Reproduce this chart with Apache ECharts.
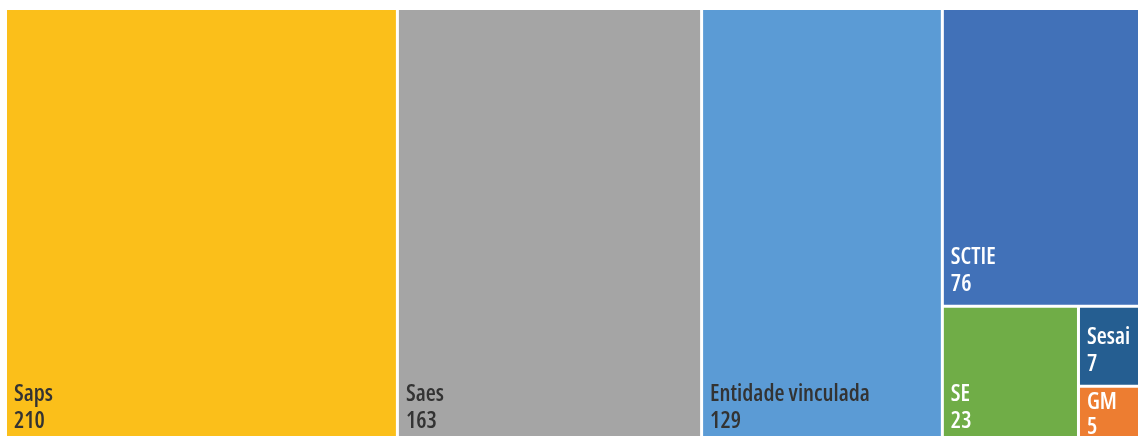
<!DOCTYPE html>
<html>
<head>
<meta charset="utf-8">
<script src="https://cdn.jsdelivr.net/npm/echarts@6/dist/echarts.min.js"></script>
<style>
html,body{margin:0;padding:0;background:#fff;}
#c{width:1138px;height:436px;}
</style>
</head>
<body>
<div id="c"></div>
<script>
const categories = ['Saps', 'Saes', 'Entidade vinculada', 'SCTIE', 'SE', 'Sesai', 'GM'];
const values = [210, 163, 129, 76, 23, 7, 5];
const colors = ['#FBBF1A', '#A5A5A5', '#5B9BD5', '#4171B8', '#70AD47', '#255E91', '#ED7D31'];
const labelColors = ['#333333', '#333333', '#333333', '#ffffff', '#ffffff', '#ffffff', '#ffffff'];

const data = categories.map((name, i) => {
  const d = {
    name: name,
    value: values[i],
    itemStyle: { color: colors[i] },
    label: { color: labelColors[i] }
  };
  if (name === 'GM') {
    d.label.position = 'insideTopLeft';
    d.label.distance = 0;
    d.label.padding = [2, 0, 0, 7];
    d.label.lineHeight = 25;
  }
  return d;
});

const chart = echarts.init(document.getElementById('c'));
chart.setOption({
  animation: false,
  series: [{
    type: 'treemap',
    left: 7,
    top: 10,
    width: 1141,
    height: 432,
    squareRatio: 1,
    roam: false,
    nodeClick: false,
    breadcrumb: { show: false },
    sort: 'desc',
    itemStyle: { borderWidth: 0, gapWidth: 3, borderColor: '#fff' },
    levels: [{ itemStyle: { borderWidth: 0, gapWidth: 3, borderColor: '#fff' } }],
    label: {
      show: true,
      position: 'insideBottomLeft',
      distance: 2,
      formatter: '{b}\n{c}',
      fontFamily: '"Open Sans", sans-serif',
      fontSize: 23,
      lineHeight: 27,
      fontWeight: 'condensed 600',
      overflow: 'none',
      lineOverflow: 'none'
    },
    upperLabel: { show: false },
    data: data
  }]
});
</script>
</body>
</html>
